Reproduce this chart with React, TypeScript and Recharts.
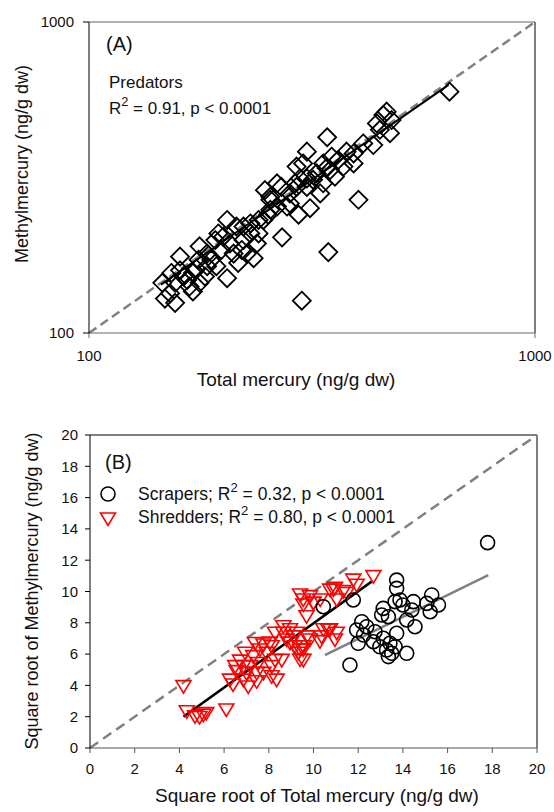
import React from 'react';
import { ScatterChart, Scatter, XAxis, YAxis, ReferenceLine, Customized } from 'recharts';

// Panel A: predators, total vs methyl mercury (ng/g dw), log-log
const predatorTHg = [
  148, 156, 153, 160, 168, 171, 177, 174, 184, 182, 193, 204, 195, 204, 214, 211, 222, 230, 234, 238,
  246, 216, 226, 248, 255, 264, 270, 282, 290, 295, 313, 292, 308, 302, 330, 335, 350, 356, 378, 392,
  372, 324, 308, 297, 341, 278, 264, 255, 252, 240, 156, 163, 171, 188, 198, 207, 220, 184, 177, 166,
  152, 230, 240, 200, 282, 308, 335, 362, 442, 457, 465, 477, 449, 473, 434, 643, 342, 402, 271, 344,
  300, 146, 160, 176, 192, 222, 255, 292, 318, 347, 392, 412,
];
const predatorMeHg = [
  129, 125, 156, 176, 141, 136, 190, 161, 180, 152, 164, 150, 209, 231, 220, 180, 199, 209, 174, 194,
  231, 168, 180, 288, 268, 303, 295, 281, 303, 240, 252, 343, 383, 351, 281, 303, 369, 318, 383, 351,
  343, 326, 314, 314, 339, 255, 255, 249, 240, 231, 145, 152, 156, 172, 185, 194, 185, 164, 145, 148,
  134, 225, 209, 204, 261, 295, 351, 360, 472, 502, 515, 484, 450, 439, 402, 597, 426, 268, 203, 182,
  127, 145, 159, 172, 199, 220, 274, 295, 311, 334, 378, 407,
];
const predatorFitX = [145, 640];
const predatorFitY = [143, 628];
const logTicks = [100, 1000];

// Panel B: square roots, scrapers and shredders
const scraperTHg = [
  17.79, 13.72, 13.72, 13.87, 13.65, 14.0, 13.12, 13.35, 13.05, 14.47, 14.4, 15.29, 15.07, 15.59, 15.22,
  14.17, 14.54, 12.16, 12.38, 11.93, 12.75, 13.72, 12.24, 13.12, 12.68, 12.0, 13.42, 12.97, 13.27, 13.5,
  14.17, 13.35, 13.65, 11.63, 11.78, 10.44,
];
const scraperMeHg = [
  13.12, 10.73, 10.2, 9.46, 9.35, 9.14, 8.92, 8.39, 8.5, 9.35, 8.82, 9.78, 9.24, 9.14, 8.71,
  8.18, 7.75, 8.07, 7.75, 7.54, 7.43, 7.33, 7.22, 7.01, 6.79, 6.69, 6.69, 6.47, 6.26, 6.05,
  6.05, 5.84, 6.47, 5.3, 9.46, 9.03,
];
const shredderTHg = [
  4.18, 4.33, 4.7, 5.07, 5.2, 4.9, 6.1, 6.4, 6.26, 6.56, 6.5, 6.86, 7.08, 7.0, 7.16, 6.94, 7.3, 7.46, 7.53,
  7.76, 7.9, 8.05, 8.28, 8.35, 8.58, 8.13, 7.76, 8.28, 8.65, 8.95, 9.25, 9.17, 9.4, 9.55, 9.32, 8.95,
  9.4, 9.84, 9.55, 10.0, 10.3, 10.44, 10.29, 10.74, 10.74, 10.96, 10.96, 12.68, 11.78, 11.93, 11.33,
  10.89, 11.04, 11.48, 9.99, 9.54, 9.69, 10.66, 11.04, 10.36, 9.84, 9.54, 9.4, 6.71, 7.6, 8.13, 7.38,
  8.65, 8.8, 9.1, 9.7, 6.86, 7.46, 8.13, 9.55,
];
const shredderMeHg = [
  3.92, 2.32, 2.0, 2.1, 2.2, 1.95, 2.43, 4.03, 4.34, 4.88, 5.2, 4.34, 3.9, 4.77, 5.2, 6.05, 5.84, 4.77, 5.4,
  6.58, 6.05, 6.7, 5.6, 4.34, 5.6, 5.2, 4.77, 7.33, 7.33, 7.56, 7.33, 6.47, 6.26, 5.6, 6.05, 6.7,
  9.78, 9.67, 9.14, 9.25, 9.46, 7.56, 6.8, 7.56, 10.09, 10.2, 6.9, 10.95, 10.73, 10.4, 9.99,
  10.1, 9.46, 9.87, 9.24, 9.46, 8.39, 7.54, 7.33, 7.1, 6.9, 6.26, 5.62, 5.55, 6.26, 6.47, 6.68,
  7.75, 6.9, 7.1, 7.1, 5.2, 4.23, 4.55, 6.47,
];
const scraperFitX = [10.51, 17.82];
const scraperFitY = [5.94, 11.05];
const shredderFitX = [4.18, 12.6];
const shredderFitY = [2.0, 10.63];
const linTicks = [0, 2, 4, 6, 8, 10, 12, 14, 16, 18, 20];

const zip = (xs: number[], ys: number[]) => xs.map((x, i) => ({ x, y: ys[i] }));

const FONT = '"Liberation Sans", Arial, Helvetica, sans-serif';
const tickStyle = { fontSize: 15, fill: '#111', fontFamily: FONT };

const Diamond = (p: any) => {
  const { cx, cy } = p;
  if (cx == null || cy == null) return null;
  const r = 9;
  return <path d={`M${cx},${cy - r}L${cx + r},${cy}L${cx},${cy + r}L${cx - r},${cy}Z`} fill="none" stroke="#000" strokeWidth={1.8} />;
};

const Ring = (p: any) => {
  const { cx, cy } = p;
  if (cx == null || cy == null) return null;
  return <circle cx={cx} cy={cy} r={7} fill="none" stroke="#000" strokeWidth={1.6} />;
};

const TriDown = (p: any) => {
  const { cx, cy } = p;
  if (cx == null || cy == null) return null;
  return <path d={`M${cx - 7.5},${cy - 6}L${cx + 7.5},${cy - 6}L${cx},${cy + 6.5}Z`} fill="none" stroke="#ff0000" strokeWidth={1.6} />;
};

const Sup = ({ x, y, pre, post, size }: any) => (
  <text x={x} y={y} fontSize={size} fontFamily={FONT} fill="#111">
    {pre}R<tspan dy={-8} fontSize={size * 0.75}>2</tspan><tspan dy={8}>{post}</tspan>
  </text>
);

const LabelsA = () => (
  <g>
    <text x={106} y={51} fontSize={20} fontFamily={FONT} fill="#111">(A)</text>
    <text x={109} y={88} fontSize={17} fontFamily={FONT} fill="#111">Predators</text>
    <Sup x={109} y={114} size={17} pre="" post=" = 0.91, p < 0.0001" />
    <text x={296} y={386} fontSize={19} fontFamily={FONT} fill="#111" textAnchor="middle">Total mercury (ng/g dw)</text>
    <text x={0} y={0} fontSize={18} fontFamily={FONT} fill="#111" textAnchor="middle" transform="translate(28,164) rotate(-90)">Methylmercury (ng/g dw)</text>
  </g>
);

const LabelsB = () => (
  <g>
    <text x={105} y={69} fontSize={20} fontFamily={FONT} fill="#111">(B)</text>
    <circle cx={108} cy={94} r={7} fill="none" stroke="#000" strokeWidth={1.6} />
    <Sup x={138} y={100} size={17.5} pre="Scrapers; " post=" = 0.32, p < 0.0001" />
    <path d={`M100.5,113L115.5,113L108,125.5Z`} fill="none" stroke="#ff0000" strokeWidth={1.6} />
    <Sup x={138} y={123} size={17.5} pre="Shredders; " post=" = 0.80, p < 0.0001" />
    <text x={317} y={402} fontSize={19} fontFamily={FONT} fill="#111" textAnchor="middle">Square root of Total mercury (ng/g dw)</text>
    <text x={0} y={0} fontSize={18} fontFamily={FONT} fill="#111" textAnchor="middle" transform="translate(38,191) rotate(-90)">Square root of Methylmercury (ng/g dw)</text>
  </g>
);

export default function App() {
  const predators = zip(predatorTHg, predatorMeHg);
  const scrapers = zip(scraperTHg, scraperMeHg);
  const shredders = zip(shredderTHg, shredderMeHg);
  const predFit = zip(predatorFitX, predatorFitY);
  const scrFit = zip(scraperFitX, scraperFitY);
  const shrFit = zip(shredderFitX, shredderFitY);

  return (
    <div style={{ position: 'absolute', left: 0, top: 0, width: 554, height: 812, background: '#fff' }}>
      <div style={{ position: 'absolute', left: 0, top: 0 }}>
        <ScatterChart width={554} height={400} margin={{ top: 22, right: 19, left: 0, bottom: 0 }}>
          <XAxis type="number" dataKey="x" scale="log" domain={[100, 1000]} ticks={logTicks} allowDataOverflow
            height={67} tick={tickStyle} tickSize={5} tickMargin={12} stroke="#666" interval={0} />
          <YAxis type="number" dataKey="y" scale="log" domain={[100, 1000]} ticks={logTicks} allowDataOverflow
            width={89} tick={tickStyle} tickSize={6} tickMargin={9} stroke="#000" interval={0} />
          <ReferenceLine y={1000} stroke="#666" ifOverflow="visible" />
          <ReferenceLine x={1000} stroke="#000" ifOverflow="visible" />
          <ReferenceLine segment={[{ x: 100, y: 100 }, { x: 1000, y: 1000 }]} stroke="#808080" strokeWidth={2.5} strokeDasharray="9 5" ifOverflow="visible" />
          <Scatter data={predators} shape={Diamond} isAnimationActive={false} />
          <ReferenceLine segment={predFit} stroke="#000" strokeWidth={2} ifOverflow="visible" />
          <Customized component={LabelsA} />
        </ScatterChart>
      </div>
      <div style={{ position: 'absolute', left: 0, top: 400 }}>
        <ScatterChart width={554} height={412} margin={{ top: 35, right: 17, left: 0, bottom: 0 }}>
          <XAxis type="number" dataKey="x" domain={[0, 20]} ticks={linTicks} allowDataOverflow
            height={64} tick={tickStyle} tickSize={5} tickMargin={10} stroke="#555" interval={0} />
          <YAxis type="number" dataKey="y" domain={[0, 20]} ticks={linTicks} allowDataOverflow
            width={90} tick={tickStyle} tickSize={5} tickMargin={7} stroke="#000" interval={0} />
          <ReferenceLine y={20} stroke="#000" ifOverflow="visible" />
          <ReferenceLine x={20} stroke="#000" ifOverflow="visible" />
          <ReferenceLine segment={[{ x: 0, y: 0 }, { x: 20, y: 20 }]} stroke="#808080" strokeWidth={2.5} strokeDasharray="10 6" ifOverflow="visible" />
          <Scatter data={shredders} shape={TriDown} isAnimationActive={false} />
          <Scatter data={scrapers} shape={Ring} isAnimationActive={false} />
          <ReferenceLine segment={shrFit} stroke="#000" strokeWidth={2.5} ifOverflow="visible" />
          <ReferenceLine segment={scrFit} stroke="#808080" strokeWidth={2.5} ifOverflow="visible" />
          <Customized component={LabelsB} />
        </ScatterChart>
      </div>
    </div>
  );
}
